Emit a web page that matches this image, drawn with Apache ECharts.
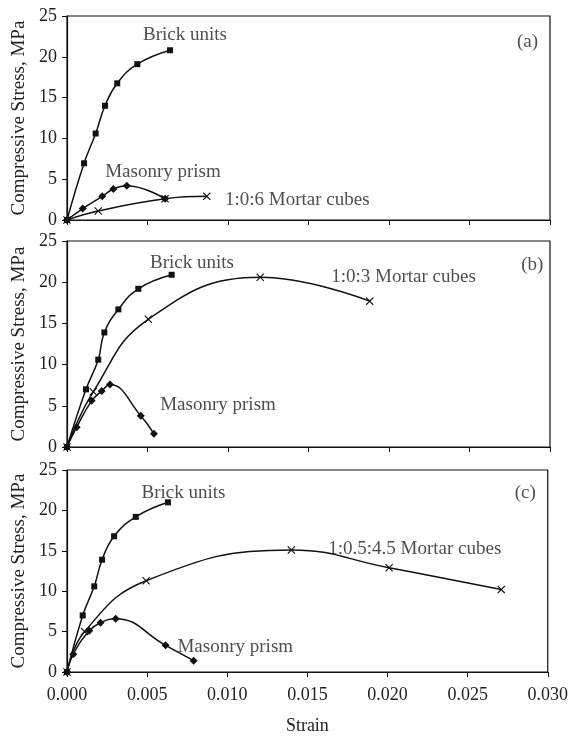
<!DOCTYPE html>
<html>
<head>
<meta charset="utf-8">
<script src="https://cdn.jsdelivr.net/npm/echarts@6/dist/echarts.min.js"></script>
<style>html,body{margin:0;padding:0;background:#fff}#c{width:571px;height:736px}</style>
</head>
<body>
<div id="c"></div>
<script>
// ---- data (strain, stress MPa) ----
const brickA  = [[0,0],[0.00106,6.95],[0.00178,10.6],[0.00236,14.0],[0.00312,16.75],[0.00437,19.1],[0.0064,20.8]];
const prismA  = [[0,0],[0.00098,1.4],[0.00219,2.9],[0.00288,3.8],[0.00371,4.2],[0.00609,2.6]];
const mortarA = [[0,0],[0.00194,1.1],[0.00609,2.6],[0.00868,2.9]];

const brickB  = [[0,0],[0.00118,7.0],[0.00194,10.6],[0.00232,13.9],[0.00319,16.7],[0.00443,19.2],[0.0065,20.9]];
const prismB  = [[0,0],[0.0006,2.4],[0.00153,5.6],[0.00216,6.8],[0.00267,7.6],[0.00458,3.8],[0.0054,1.6]];
const mortarB = [[0,0],[0.00163,6.7],[0.00505,15.5],[0.0120,20.6],[0.0188,17.7]];

const brickC  = [[0,0],[0.00098,7.0],[0.0017,10.6],[0.00219,13.9],[0.00294,16.8],[0.00429,19.2],[0.0063,21.0]];
const prismC  = [[0,0],[0.00039,2.2],[0.00139,5.1],[0.00209,6.1],[0.00304,6.6],[0.00615,3.3],[0.0079,1.4]];
const mortarC = [[0,0],[0.0011,5.0],[0.00494,11.3],[0.0140,15.1],[0.0201,12.9],[0.0271,10.2]];

// annotation anchors (strain, stress, text)
const labelsA = [[0.00733,22.7,'Brick units'],[0.00596,5.9,'Masonry prism'],[0.0143,2.45,'1:0:6 Mortar cubes'],[0.0286,21.8,'(a)']];
const labelsB = [[0.00776,22.3,'Brick units'],[0.00938,5.1,'Masonry prism'],[0.0209,20.6,'1:0:3 Mortar cubes'],[0.0289,22.1,'(b)']];
const labelsC = [[0.00727,22.2,'Brick units'],[0.0105,3.05,'Masonry prism'],[0.0217,15.2,'1:0.5:4.5 Mortar cubes'],[0.0286,22.2,'(c)']];

const yTicks = [0,5,10,15,20,25];
const xTicks = [0,0.005,0.010,0.015,0.020,0.025,0.030];
const yTitle = 'Compressive Stress, MPa';
const xTitle = 'Strain';

// ---- chart ----
const FONT = '"Liberation Serif","Times New Roman",serif';
const INK = '#111';
const TXT = '#222';
const crossPath = 'path://M0,1 L1,0 L5,4 L9,0 L10,1 L6,5 L10,9 L9,10 L5,6 L1,10 L0,9 L4,5 Z';

const panels = [
  {brick:brickA, prism:prismA, mortar:mortarA, labels:labelsA, top:16, height:204},
  {brick:brickB, prism:prismB, mortar:mortarB, labels:labelsB, top:241, height:206},
  {brick:brickC, prism:prismC, mortar:mortarC, labels:labelsC, top:470, height:205}
];

const grid = [], xAxis = [], yAxis = [], series = [];
panels.forEach((p, i) => {
  grid.push({left:67, width:483, top:p.top, height:p.height, show:true, borderColor:INK, borderWidth:1.2, backgroundColor:'#fff'});
  const last = i === panels.length - 1;
  xAxis.push({
    type:'value', gridIndex:i, min:xTicks[0], max:xTicks[xTicks.length-1], interval:0.005,
    axisLine:{show:true, onZero:false, lineStyle:{color:INK, width:1.2}},
    axisTick:{show:true, inside:false, length:5, lineStyle:{color:INK}},
    splitLine:{show:false},
    axisLabel:{show:last, margin:14, fontFamily:FONT, fontSize:18, color:TXT, formatter:v=>v.toFixed(3)},
    name: last ? xTitle : '', nameLocation:'middle', nameGap:45,
    nameTextStyle:{fontFamily:FONT, fontSize:18, color:TXT}
  });
  yAxis.push({
    type:'value', gridIndex:i, min:yTicks[0], max:yTicks[yTicks.length-1], interval:5,
    axisLine:{show:true, lineStyle:{color:INK, width:1.2}},
    axisTick:{show:true, inside:false, length:5, lineStyle:{color:INK}},
    splitLine:{show:false},
    axisLabel:{margin:10, fontFamily:FONT, fontSize:18, color:TXT},
    name:yTitle, nameLocation:'middle', nameRotate:90, nameGap:33,
    nameTextStyle:{fontFamily:FONT, fontSize:19, color:TXT}
  });
  const common = {type:'line', xAxisIndex:i, yAxisIndex:i, smooth:0.45, silent:true,
    lineStyle:{color:INK, width:1.5}, itemStyle:{color:INK}, showAllSymbol:true};
  series.push(Object.assign({}, common, {name:'Brick units', data:p.brick, symbol:'rect', symbolSize:6}));
  series.push(Object.assign({}, common, {name:'Masonry prism', data:p.prism, symbol:'diamond', symbolSize:8}));
  series.push(Object.assign({}, common, {name:'Mortar cubes', data:p.mortar, symbol:crossPath, symbolSize:8}));
  series.push({type:'scatter', xAxisIndex:i, yAxisIndex:i, silent:true, symbolSize:0,
    data:p.labels,
    label:{show:true, position:'inside', formatter:q=>q.value[2], fontFamily:FONT, fontSize:19, color:TXT}});
});

const chart = echarts.init(document.getElementById('c'), null, {renderer:'canvas'});
chart.setOption({animation:false, backgroundColor:'#fff', grid, xAxis, yAxis, series});
</script>
</body>
</html>
